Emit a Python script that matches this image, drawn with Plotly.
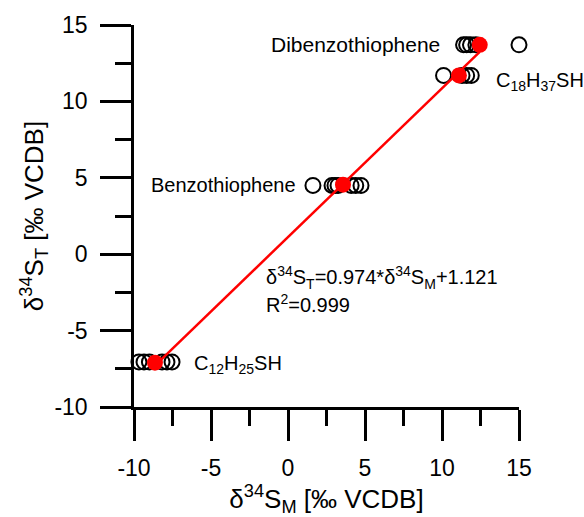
import plotly.graph_objects as go

# ---- data ----
open_x = [11.4, 11.6, 11.85, 12.2, 15.0,
          10.1, 11.3, 11.6, 11.9,
          1.62, 2.86, 3.05, 3.25, 4.1, 4.4, 4.74,
          -9.68, -9.35, -9.0, -8.18, -7.86, -7.53]
open_y = [13.7, 13.7, 13.7, 13.7, 13.7,
          11.7, 11.7, 11.7, 11.7,
          4.5, 4.5, 4.5, 4.5, 4.5, 4.5, 4.5,
          -7.05, -7.05, -7.05, -7.05, -7.05, -7.05]
mean_x = [12.45, 11.1, 3.57, -8.64]
mean_y = [13.7, 11.7, 4.55, -7.1]
slope = 0.974
intercept = 1.121
fit_x = [min(mean_x), max(mean_x)]
fit_y = [slope * v + intercept for v in fit_x]
ticks = [-10, -5, 0, 5, 10, 15]
tick_text = ["-10", "-5", "0", "5", "10", "15"]

FONT = "Liberation Sans, Arial, sans-serif"

fig = go.Figure()
fig.add_trace(go.Scatter(x=open_x, y=open_y, mode="markers", cliponaxis=False,
                         marker=dict(symbol="circle-open", size=15, color="black",
                                     line=dict(width=2, color="black")),
                         showlegend=False))
fig.add_trace(go.Scatter(x=fit_x, y=fit_y, mode="lines", cliponaxis=False,
                         line=dict(color="#ff0000", width=2.5), showlegend=False))
fig.add_trace(go.Scatter(x=mean_x, y=mean_y, mode="markers", cliponaxis=False,
                         marker=dict(symbol="circle", size=16, color="#ff0000",
                                     line=dict(width=0)),
                         showlegend=False))

ann_font = dict(family=FONT, size=20, color="black")
fig.add_annotation(x=10.0, y=13.7, text="Dibenzothiophene", xanchor="right",
                   yanchor="middle", showarrow=False, font=dict(family=FONT, size=21, color="black"))
fig.add_annotation(x=13.38, y=11.3, text="C<sub>18</sub>H<sub>37</sub>SH", xanchor="left",
                   yanchor="middle", showarrow=False, font=ann_font)
fig.add_annotation(x=0.65, y=4.52, text="Benzothiophene", xanchor="right",
                   yanchor="middle", showarrow=False, font=ann_font)
fig.add_annotation(x=-6.23, y=-7.2, text="C<sub>12</sub>H<sub>25</sub>SH", xanchor="left",
                   yanchor="middle", showarrow=False, font=ann_font)
fig.add_annotation(x=-1.56, y=-1.5,
                   text="δ<sup>34</sup>S<sub>T</sub>=0.974*δ<sup>34</sup>S<sub>M</sub>+1.121",
                   xanchor="left", yanchor="middle", showarrow=False, font=ann_font)
fig.add_annotation(x=-1.56, y=-3.2, text="R<sup>2</sup>=0.999",
                   xanchor="left", yanchor="middle", showarrow=False, font=ann_font)

axis_common = dict(range=[-10, 15], tickvals=ticks, ticktext=tick_text, ticks="outside",
                   ticklen=31, tickwidth=2.5, tickcolor="black", showline=True,
                   linewidth=2.5, linecolor="black", showgrid=False, zeroline=False,
                   tickfont=dict(family=FONT, size=23, color="black"),
                   minor=dict(dtick=2.5, tick0=0, ticks="outside", ticklen=16,
                              tickwidth=2.5, tickcolor="black", showgrid=False))

fig.update_xaxes(**axis_common, ticklabelstandoff=8,
                 title=dict(text="δ<sup>34</sup>S<sub>M</sub> [‰ VCDB]",
                            font=dict(family=FONT, size=26, color="black"), standoff=2))
fig.update_yaxes(**axis_common, ticklabelstandoff=8,
                 title=dict(text="δ<sup>34</sup>S<sub>T</sub> [‰ VCDB]",
                            font=dict(family=FONT, size=26, color="black"), standoff=4))

fig.update_layout(width=584, height=517, margin=dict(l=134, r=65, t=23, b=110),
                  plot_bgcolor="white", paper_bgcolor="white",
                  font=dict(family=FONT, color="black"))

fig.write_html("out.html")
